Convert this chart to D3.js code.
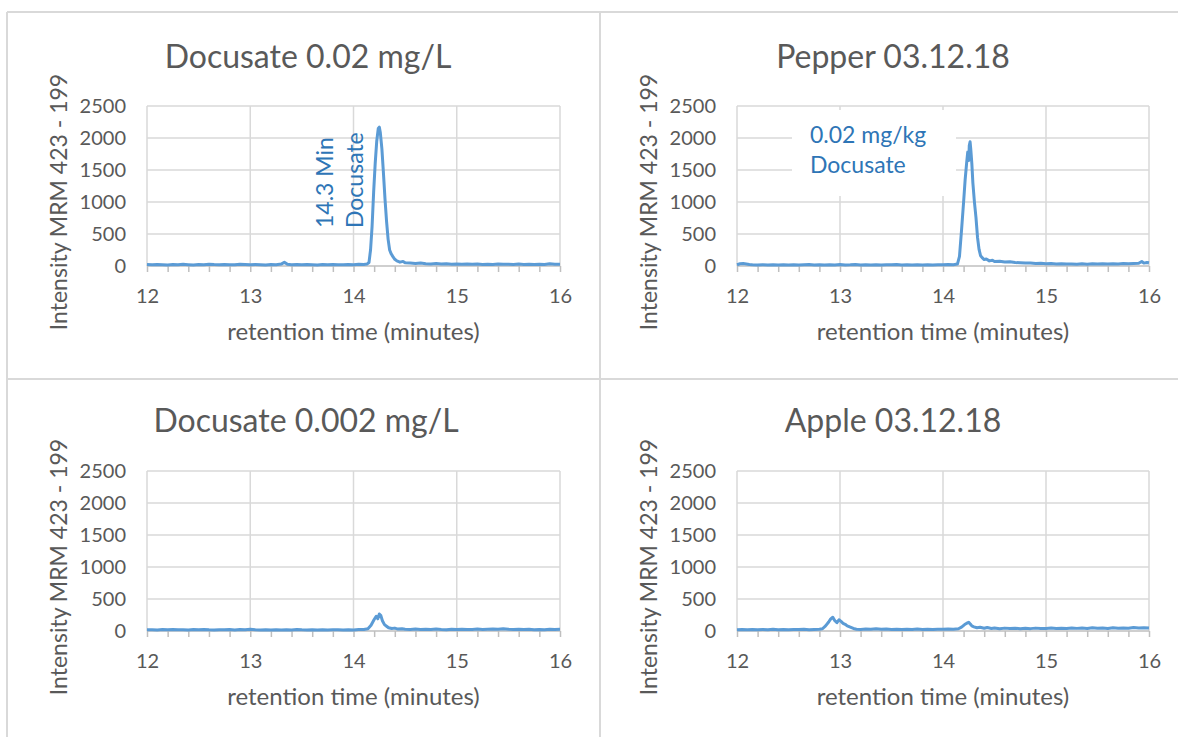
<!DOCTYPE html>
<html><head><meta charset="utf-8">
<script src="https://cdn.jsdelivr.net/npm/d3@7/dist/d3.min.js"></script>
<style>html,body{margin:0;padding:0;background:#fff;}svg{display:block;}</style>
</head><body>
<svg id="c" width="1178" height="737"></svg>
<script>
const titles = ["Docusate 0.02 mg/L", "Pepper 03.12.18", "Docusate 0.002 mg/L", "Apple 03.12.18"];
const xTicks = [12, 13, 14, 15, 16];
const xMinorTicks = [12,12.2,12.4,12.6,12.8,13,13.2,13.4,13.6,13.8,14,14.2,14.4,14.6,14.8,15,15.2,15.4,15.6,15.8,16];
const yTicks = [0, 500, 1000, 1500, 2000, 2500];
const xLabel = "retention time (minutes)";
const yLabel = "Intensity MRM 423 - 199";

const docusate002 = [[12.00,22],[12.05,18],[12.10,25],[12.15,20],[12.20,16],[12.25,23],[12.30,19],[12.35,26],[12.40,21],[12.45,17],[12.50,24],[12.55,20],[12.60,28],[12.65,22],[12.70,18],[12.75,25],[12.80,21],[12.85,19],[12.90,27],[12.95,22],[13.00,18],[13.05,24],[13.10,20],[13.15,17],[13.20,23],[13.25,21],[13.30,30],[13.33,58],[13.36,26],[13.40,19],[13.45,22],[13.50,18],[13.55,24],[13.60,20],[13.65,17],[13.70,23],[13.75,19],[13.80,25],[13.85,21],[13.90,18],[13.95,24],[14.00,20],[14.05,26],[14.10,22],[14.13,30],[14.15,55],[14.165,250],[14.18,620],[14.195,1150],[14.21,1600],[14.225,1950],[14.24,2150],[14.25,2170],[14.26,2080],[14.275,1830],[14.29,1450],[14.305,1050],[14.32,700],[14.335,420],[14.35,250],[14.365,190],[14.38,150],[14.40,105],[14.42,80],[14.45,60],[14.48,72],[14.50,50],[14.55,45],[14.60,40],[14.65,48],[14.70,36],[14.75,33],[14.80,38],[14.85,30],[14.90,34],[14.95,28],[15.00,31],[15.05,27],[15.10,33],[15.15,26],[15.20,30],[15.25,25],[15.30,29],[15.35,24],[15.40,31],[15.45,26],[15.50,28],[15.55,23],[15.60,30],[15.65,25],[15.70,27],[15.75,22],[15.80,29],[15.85,24],[15.90,35],[15.95,26],[16.00,28]];

const pepper = [[12.00,20],[12.03,35],[12.06,38],[12.09,30],[12.12,22],[12.15,18],[12.20,16],[12.25,20],[12.30,15],[12.35,18],[12.40,14],[12.45,19],[12.50,16],[12.55,21],[12.60,15],[12.65,18],[12.70,22],[12.75,16],[12.80,19],[12.85,15],[12.90,20],[12.95,17],[13.00,22],[13.05,16],[13.10,19],[13.15,24],[13.20,17],[13.25,21],[13.30,16],[13.35,19],[13.40,15],[13.45,20],[13.50,18],[13.55,22],[13.60,16],[13.65,19],[13.70,15],[13.75,21],[13.80,17],[13.85,20],[13.90,16],[13.95,19],[14.00,18],[14.05,22],[14.10,20],[14.14,30],[14.16,150],[14.18,560],[14.20,1000],[14.215,1350],[14.23,1620],[14.24,1780],[14.25,1650],[14.255,1880],[14.263,1940],[14.27,1820],[14.28,1600],[14.29,1300],[14.305,1000],[14.32,760],[14.335,450],[14.35,260],[14.365,160],[14.38,130],[14.40,100],[14.42,110],[14.45,80],[14.48,90],[14.50,70],[14.55,75],[14.60,62],[14.65,68],[14.70,55],[14.75,50],[14.80,45],[14.85,48],[14.90,38],[14.95,42],[15.00,35],[15.05,38],[15.10,32],[15.15,36],[15.20,30],[15.25,33],[15.30,28],[15.35,34],[15.40,29],[15.45,35],[15.50,30],[15.55,36],[15.60,31],[15.65,37],[15.70,33],[15.75,38],[15.80,34],[15.85,40],[15.90,42],[15.93,70],[15.95,45],[15.98,55],[16.00,50]];

const docusate0002 = [[12.00,18],[12.05,20],[12.10,16],[12.15,22],[12.20,19],[12.25,24],[12.30,18],[12.35,21],[12.40,17],[12.45,23],[12.50,20],[12.55,25],[12.60,19],[12.65,16],[12.70,21],[12.75,18],[12.80,22],[12.85,17],[12.90,24],[12.95,20],[13.00,26],[13.05,19],[13.10,17],[13.15,21],[13.20,16],[13.25,19],[13.30,15],[13.35,20],[13.40,17],[13.45,22],[13.50,18],[13.55,16],[13.60,20],[13.65,17],[13.70,19],[13.75,15],[13.80,21],[13.85,18],[13.90,16],[13.95,20],[14.00,17],[14.05,22],[14.10,25],[14.14,35],[14.17,90],[14.20,180],[14.22,230],[14.235,190],[14.25,265],[14.265,240],[14.28,160],[14.30,100],[14.32,75],[14.34,50],[14.37,38],[14.40,45],[14.43,30],[14.47,35],[14.50,28],[14.55,25],[14.60,30],[14.65,24],[14.70,27],[14.75,22],[14.80,32],[14.85,25],[14.90,21],[14.95,26],[15.00,23],[15.05,28],[15.10,22],[15.15,25],[15.20,30],[15.25,24],[15.30,27],[15.35,31],[15.40,26],[15.45,35],[15.50,28],[15.55,24],[15.60,27],[15.65,22],[15.70,26],[15.75,21],[15.80,25],[15.85,20],[15.90,28],[15.95,23],[16.00,26]];

const apple = [[12.00,20],[12.05,24],[12.10,18],[12.15,22],[12.20,19],[12.25,25],[12.30,21],[12.35,27],[12.40,20],[12.45,23],[12.50,19],[12.55,24],[12.60,22],[12.65,26],[12.70,21],[12.75,25],[12.80,28],[12.83,35],[12.86,80],[12.89,140],[12.91,190],[12.93,215],[12.95,160],[12.97,130],[12.99,175],[13.01,150],[13.03,120],[13.05,105],[13.07,80],[13.10,60],[13.13,40],[13.16,28],[13.20,25],[13.25,30],[13.30,27],[13.35,35],[13.40,26],[13.45,30],[13.50,24],[13.55,29],[13.60,23],[13.65,28],[13.70,25],[13.75,31],[13.80,24],[13.85,27],[13.90,22],[13.95,28],[14.00,26],[14.05,30],[14.10,28],[14.15,35],[14.18,60],[14.21,100],[14.235,125],[14.25,135],[14.265,110],[14.28,80],[14.30,65],[14.33,50],[14.36,58],[14.40,42],[14.43,55],[14.47,40],[14.50,48],[14.55,36],[14.60,45],[14.65,38],[14.70,44],[14.75,35],[14.80,42],[14.85,37],[14.90,45],[14.95,38],[15.00,40],[15.05,46],[15.10,38],[15.15,44],[15.20,40],[15.25,48],[15.30,41],[15.35,45],[15.40,39],[15.45,50],[15.50,42],[15.55,47],[15.60,40],[15.65,52],[15.70,44],[15.75,48],[15.80,42],[15.85,55],[15.90,46],[15.95,50],[16.00,45]];

const seriesList = [docusate002, pepper, docusate0002, apple];
const annotation1 = ["14.3 Min", "Docusate"];
const annotation2 = ["0.02 mg/kg", "Docusate"];

const FONT = "Lato, 'Open Sans', sans-serif";
const TXT = "#595959";
const GRID = "#d9d9d9";
const AXIS = "#bfbfbf";
const LINE = "#5b9bd5";
const ANN = "#2e75b6";

// panel layout: plot area rectangles
const panels = [
  {x0:147, x1:560, y0:106, y1:266, tx:308, ty:68},
  {x0:737, x1:1149, y0:106, y1:266, tx:893, ty:68},
  {x0:147, x1:560, y0:471, y1:631, tx:306, ty:432},
  {x0:737, x1:1149, y0:471, y1:631, tx:893, ty:432}
];

const svg = d3.select("#c");

// frame lines
const frame = svg.append("g").attr("stroke", GRID).attr("stroke-width", 2);
frame.append("line").attr("x1",7).attr("x2",1178).attr("y1",12).attr("y2",12);
frame.append("line").attr("x1",7).attr("x2",7).attr("y1",12).attr("y2",737);
frame.append("line").attr("x1",600).attr("x2",600).attr("y1",12).attr("y2",737);
frame.append("line").attr("x1",7).attr("x2",1178).attr("y1",379).attr("y2",379);

panels.forEach((p, i) => {
  const g = svg.append("g");
  const x = d3.scaleLinear().domain([12, 16]).range([p.x0, p.x1]);
  const y = d3.scaleLinear().domain([0, 2500]).range([p.y1, p.y0]);

  // horizontal gridlines
  g.append("g").selectAll("line").data(yTicks.filter(v => v > 0)).join("line")
    .attr("x1", p.x0).attr("x2", p.x1).attr("y1", d => y(d)).attr("y2", d => y(d))
    .attr("stroke", GRID).attr("stroke-width", 1.5);
  // vertical gridlines
  g.append("g").selectAll("line").data(xTicks).join("line")
    .attr("x1", d => x(d)).attr("x2", d => x(d)).attr("y1", p.y0).attr("y2", p.y1)
    .attr("stroke", GRID).attr("stroke-width", 1.5);

  // x axis with minor ticks
  const xAxisMinor = d3.axisBottom(x).tickValues(xMinorTicks).tickSize(6).tickFormat("");
  const ga = g.append("g").attr("transform", `translate(0,${p.y1})`).call(xAxisMinor);
  ga.select(".domain").attr("stroke", AXIS).attr("stroke-width", 1.5).attr("d", `M${p.x0},0H${p.x1}`);
  ga.selectAll(".tick line").attr("stroke", AXIS).attr("stroke-width", 1.5);

  const xAxis = d3.axisBottom(x).tickValues(xTicks).tickSize(0).tickFormat(d3.format("d"));
  const gx = g.append("g").attr("transform", `translate(0,${p.y1})`).call(xAxis);
  gx.select(".domain").remove();
  gx.selectAll("text").attr("fill", TXT).attr("font-family", FONT).attr("font-size", 20).attr("dy", "0.32em").attr("y", 31);

  const yAxis = d3.axisLeft(y).tickValues(yTicks).tickSize(0).tickPadding(21).tickFormat(d3.format("d"));
  const gy = g.append("g").attr("transform", `translate(${p.x0},0)`).call(yAxis);
  gy.select(".domain").remove();
  gy.selectAll("text").attr("fill", TXT).attr("font-family", FONT).attr("font-size", 20);

  // annotation box (pepper) drawn over gridlines
  if (i === 1) {
    g.append("rect").attr("x", 792).attr("y", 110).attr("width", 164).attr("height", 86).attr("fill", "#fff");
    g.append("g").selectAll("text").data(annotation2).join("text")
      .attr("x", 810).attr("y", (d, k) => 143 + k * 30)
      .attr("fill", ANN).attr("font-family", FONT).attr("font-size", 23).text(d => d);
  }

  // data line
  const line = d3.line().x(d => x(d[0])).y(d => y(d[1]));
  g.append("path").datum(seriesList[i]).attr("d", line)
    .attr("fill", "none").attr("stroke", LINE).attr("stroke-width", 3).attr("stroke-linejoin", "round");

  if (i === 0) {
    g.append("g").selectAll("text").data(annotation1).join("text")
      .attr("transform", (d, k) => `translate(${333 + k * 30},228) rotate(-90)`)
      .attr("fill", ANN).attr("font-family", FONT).attr("font-size", 23).text(d => d);
  }

  // title
  g.append("text").attr("x", p.tx).attr("y", p.ty).attr("text-anchor", "middle")
    .attr("fill", TXT).attr("font-family", FONT).attr("font-size", 32).text(titles[i]);
  // axis titles
  g.append("text").attr("x", (p.x0 + p.x1) / 2).attr("y", p.y1 + 74).attr("text-anchor", "middle")
    .attr("fill", TXT).attr("font-family", FONT).attr("font-size", 24).text(xLabel);
  g.append("text").attr("transform", `translate(${p.x0 - 80},${(p.y0 + p.y1) / 2 + 16}) rotate(-90)`)
    .attr("text-anchor", "middle").attr("fill", TXT).attr("font-family", FONT).attr("font-size", 23).text(yLabel);
});
</script>
</body></html>
